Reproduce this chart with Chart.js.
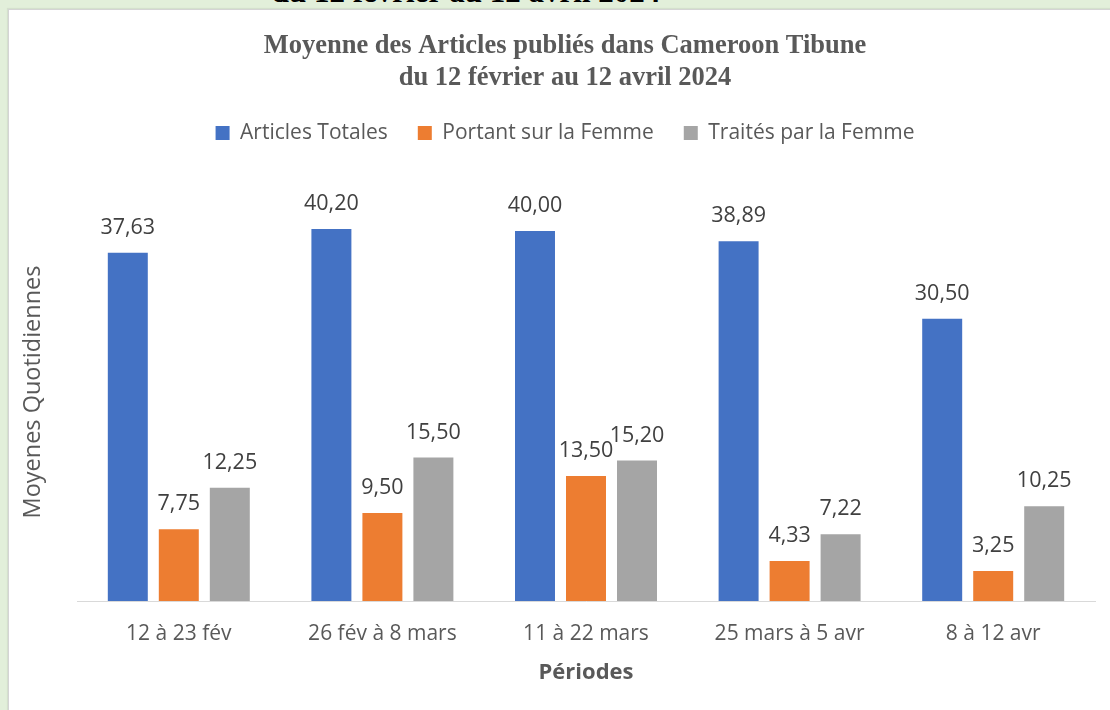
<!DOCTYPE html>
<html>
<head>
<meta charset="utf-8">
<script src="https://cdn.jsdelivr.net/npm/chart.js@4.4.1/dist/chart.umd.min.js"></script>
<style>
  html, body { margin:0; padding:0; width:1110px; height:710px; overflow:hidden; background:#E2EFDA; }
  #panel { position:absolute; left:8px; top:9px; width:1110px; height:710px; background:#fff; border:1px solid #D4D4D4; box-shadow:-1px -1px 1px rgba(0,0,0,0.06); }
  #cut { position:absolute; top:-24px; left:466px; transform:translateX(-50%); white-space:nowrap;
         font:bold 31px 'Liberation Serif', 'Times New Roman', serif; line-height:32px; color:#000; }
  #wrap { position:absolute; left:0; top:0; width:1120px; height:710px; }
</style>
</head>
<body>
<div id="cut">du 12 février au 12 avril 2024</div>
<div id="panel"></div>
<div id="wrap"><canvas id="c" width="1120" height="710"></canvas></div>
<script>
const categories = ['12 à 23 fév', '26 fév à 8 mars', '11 à 22 mars', '25 mars à 5 avr', '8 à 12 avr'];
const articlesTotales = [37.63, 40.20, 40.00, 38.89, 30.50];
const portantSurFemme = [7.75, 9.50, 13.50, 4.33, 3.25];
const traitesParFemme = [12.25, 15.50, 15.20, 7.22, 10.25];
const seriesNames = ['Articles Totales', 'Portant sur la Femme', 'Traités par la Femme'];
const chartTitle = ['Moyenne des Articles publiés dans Cameroon Tibune', 'du 12 février au 12 avril 2024'];
const xTitle = 'Périodes';
const yTitle = 'Moyenes Quotidiennes';

Chart.defaults.font.family = "'Open Sans', 'Noto Sans', sans-serif";

const valueLabels = {
  id: 'valueLabels',
  afterDatasetsDraw(chart) {
    const ctx = chart.ctx;
    ctx.save();
    ctx.font = "21.5px 'Open Sans', sans-serif";
    ctx.fillStyle = '#404040';
    ctx.textAlign = 'center';
    ctx.textBaseline = 'middle';
    chart.data.datasets.forEach((ds, i) => {
      const meta = chart.getDatasetMeta(i);
      meta.data.forEach((el, j) => {
        const txt = ds.data[j].toFixed(2).replace('.', ',');
        ctx.fillText(txt, el.x, el.y - 25);
      });
    });
    ctx.restore();
  }
};

const yAxisTitle = {
  id: 'yAxisTitle',
  afterDraw(chart) {
    const ctx = chart.ctx;
    ctx.save();
    ctx.translate(33, 392);
    ctx.rotate(-Math.PI / 2);
    ctx.font = "23.5px 'Open Sans', sans-serif";
    ctx.fillStyle = '#595959';
    ctx.textAlign = 'center';
    ctx.textBaseline = 'middle';
    ctx.fillText(yTitle, 0, 0);
    ctx.restore();
  }
};

new Chart(document.getElementById('c'), {
  type: 'bar',
  data: {
    labels: categories,
    datasets: [
      { label: seriesNames[0], data: articlesTotales, backgroundColor: '#4472C4' },
      { label: seriesNames[1], data: portantSurFemme, backgroundColor: '#ED7D31' },
      { label: seriesNames[2], data: traitesParFemme, backgroundColor: '#A5A5A5' }
    ]
  },
  options: {
    responsive: false,
    animation: false,
    devicePixelRatio: 1,
    categoryPercentage: 0.7515,
    barPercentage: 0.784,
    layout: { padding: { left: 15, right: 5, top: 10, bottom: 20 } },
    plugins: {
      title: {
        display: true,
        text: chartTitle,
        color: '#595959',
        font: { family: "'Liberation Serif', 'Times New Roman', serif", size: 26.5, weight: 'bold', lineHeight: 1.2 },
        padding: { top: 20, bottom: -1 }
      },
      legend: {
        display: true,
        position: 'top',
        labels: {
          color: '#595959',
          font: { size: 21 },
          boxWidth: 14,
          boxHeight: 14,
          padding: 30
        }
      },
      tooltip: { enabled: false }
    },
    scales: {
      x: {
        grid: { display: false, drawTicks: false },
        border: { display: true, color: '#D9D9D9', width: 1 },
        ticks: { color: '#595959', font: { size: 21 }, padding: 20 },
        title: { display: true, text: xTitle, color: '#595959', font: { size: 22, weight: 'bold' }, padding: { top: 4, bottom: 4 } },
        afterFit(s) { s.height = 89; }
      },
      y: {
        min: 0,
        max: 48.36,
        grid: { display: false, drawTicks: false },
        border: { display: false },
        ticks: { display: false },
        title: { display: false },
        afterFit(s) { s.width = 62; }
      },
      y2: {
        position: 'right',
        grid: { display: false, drawTicks: false },
        border: { display: false },
        ticks: { display: false },
        afterFit(s) { s.width = 20; }
      }
    }
  },
  plugins: [valueLabels, yAxisTitle]
});
</script>
</body>
</html>
